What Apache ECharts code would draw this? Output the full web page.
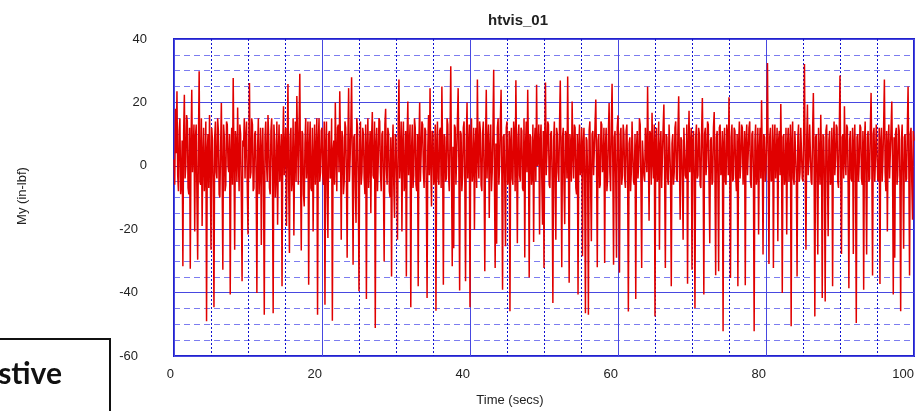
<!DOCTYPE html>
<html>
<head>
<meta charset="utf-8">
<script src="https://cdn.jsdelivr.net/npm/echarts@6/dist/echarts.min.js"></script>
<style>html,body{margin:0;padding:0;background:#fff}#c{width:916px;height:411px}</style>
</head>
<body>
<div id="c"></div>
<script>
const chartTitle = 'htvis_01';
const xAxisTitle = 'Time (secs)';
const yAxisTitle = 'My (in-lbf)';
const xTicks = [0, 20, 40, 60, 80, 100];
const yTicks = [-60, -40, -20, 0, 20, 40];
const startTime = 0;
const sampleStep = 0.1;
const boxText = 'stive';
const momentValues = [
 2,-6,18,4,23.5,-3,-8,11,15,-9,-5,8,-31.7,10,22.4,-4,0,16,14,-7,-9,12,-32.5,6,24,-2,5,13,-20.7,9,13,-10,-29.6,7,29.8,-5,-6,15,-19,3,12,-8,-3,14,-49,5,10,-7,16,1,
 -26.5,12,8,-7,-44.6,9,14,-2,-4,15,11,-9,-10,6,19.8,-3,-32.8,13,9,-8,-6,14,13,0,-2,10,-40.6,4,12,-6,27.7,3,-26.5,11,7,-5,18.4,2,-8,13,10,-10,-36.4,8,6,15,-4,9,14,-6,
 -21.7,7,26.1,-4,-2,15,13,-8,-7,10,11,-3,-40.1,6,15,-9,0,12,-25,5,12,-6,-47,9,14,1,-5,16,9,-7,-9,11,15,-2,-46.5,13,8,-10,-3,14,-18.6,4,13,-5,3,10,-38,7,18.8,-3,
 6,12,-19,5,25.8,-6,-27.5,9,12,-8,-4,15,-22,3,14,-5,22,8,-6,13,29,-2,-26.7,11,10,-9,-12.8,7,15,-4,2,14,-37.5,6,14,-7,-8,12,-20.7,2,13,-6,4,15,-47,8,15,-5,-2,11,
 12,-3,-6,14,-43.8,7,14,-8,-22.8,10,11,-4,-3,15,-48.9,5,8,-6,20,3,-8,12,13,-2,23.5,6,-23.3,11,9,-9,-5,14,12,-3,-29,8,24.5,-5,2,13,27.9,0,-31.2,9,10,-7,-18,15,12,-4,
 -39.6,8,14,-6,-2,12,10,-4,-9,13,-42,6,15,-7,3,11,-15,9,17,-3,-4,14,-51.2,7,12,-8,1,15,14,-2,-8,10,11,-5,-30.2,13,18,-1,-6,12,10,-8,-10,9,-34.9,4,13,-6,-16.5,10,
 8,-5,-23.3,12,27.2,-4,2,14,-20.7,7,14,-8,-5,11,-34.9,9,20.3,-3,6,13,-44.6,5,13,-7,-3,15,12,-6,-8,10,-38,8,20,-5,4,14,13,-2,-7,12,11,-9,-41.7,6,16,-3,24.5,1,-12.8,11,
 10,-6,-2,13,-45.7,7,14,-4,-6,11,12,-7,25,4,-37.5,10,9,-5,-4,15,13,-3,-8,9,31.4,-2,-31.7,6,-26,13,12,-6,3,14,24.5,-1,-39.3,11,10,-8,-3,12,14,-5,-36.4,8,20,-4,5,13,
 -44.6,9,15,-5,-1,12,-20.2,6,12,-7,27.2,3,-4,14,11,-6,-8,10,14,-2,-33.3,8,24,-4,6,13,-16.5,5,13,-8,-2,11,30.3,-3,-32.2,7,-24.6,12,15,-6,0,14,24,-2,-39.1,9,10,-5,-25.4,12,
 14,-6,-2,11,-45.9,8,12,-4,-6,14,10,-8,27,2,-24.4,9,13,-3,-5,12,11,-7,-8,15,-28.9,6,14,-2,24,5,-35.2,10,9,-6,-3,13,-24,7,12,-5,25.6,0,2,13,-21.7,8,13,-4,-18.6,11,
 -32.2,9,26.3,-3,4,14,13,-6,-7,10,11,-4,-43.3,8,14,-7,-23.3,12,10,-2,-5,13,26.9,3,-32,9,12,-6,-18.4,11,9,-4,28.2,2,-36.9,10,6,-5,20.3,4,-4,13,12,-7,-9,10,-40.6,6,13,-3,
 2,12,-28.5,7,12,-5,-46.5,9,8,-4,-47,11,14,-6,-23.8,10,11,-3,-3,13,20.9,1,-32,8,10,-7,-6,14,13,-2,1,12,-30.7,6,12,-8,-4,10,19.8,-2,-8,13,25.9,0,-31.2,9,11,-5,-29,12,
 15.9,-2,-33.7,10,12,-6,-3,13,10,-4,-7,11,13,-3,-46,7,9,-8,-2,14,14,-5,-6,10,-42,6,11,-4,1,15,13,-6,-32.2,8,8,-3,-5,12,12,-2,25,4,-17.3,11,10,-6,16.7,2,-4,13,
 -47.5,8,12,-5,-3,14,-26.5,6,11,-7,3,12,19.3,-2,-32.2,10,9,-4,-6,13,13,-3,-38,7,10,-6,-2,12,14,-4,-5,11,21.9,1,-17,9,8,-5,-23.3,12,12,-3,-4,13,-37.2,6,17.4,-2,6,12,
 -32.8,8,11,-5,-44.9,9,13,-4,-3,12,10,-6,-7,11,21.4,1,-40.6,10,12,-3,2,14,13,-5,-24.4,8,9,-6,-5,12,17,-2,-34.5,9,11,-4,-33.3,12,13,-3,0,11,-52.2,7,12,-5,-6,13,10,-3,
 21.6,-1,-35.4,9,13,-5,-4,12,11,-3,-8,10,-38,7,14,-4,1,13,12,-6,-6,11,-37.7,8,13,-3,4,12,14,-5,-7,10,11,-2,-52.2,8,13,-6,-2,12,-21.7,5,12,-4,20.7,2,-28,10,9,-5,
 -2,11,32.4,0,-31,9,12,-5,-4,13,-32.2,7,13,-4,3,12,-23.8,8,11,-3,19.5,2,-40.1,9,10,-6,-3,12,-21.7,6,12,-5,4,13,-50.6,8,14,-4,-6,11,11,-3,-34.9,9,13,-5,-2,12,12,-4,
 -5,12,32.1,-2,-26.5,8,19.3,-3,2,13,13,-5,-6,11,23,0,-47.5,9,10,-4,-28,12,12,-6,16.1,3,-41.7,10,9,-5,-42.8,11,13,-3,-22.2,8,11,-6,-4,12,-38,7,14,-3,2,13,12,-5,-7,10,
 28.5,-3,-27.8,9,10,-4,18.8,2,-3,13,12,-6,-38.6,8,11,-4,-5,12,-27.8,7,13,-3,-49.6,9,10,-5,1,13,12,-4,-6,11,-39.1,7,14,-3,-28,9,11,-5,-4,12,23,1,-34.6,10,12,-5,3,13,
 13,-4,-5,12,-37.3,8,12,-5,2,13,27.2,-2,-8,11,-20.7,7,13,-4,4,12,20.3,0,-40.6,9,-29,10,12,-6,-3,13,11,-5,-45.9,8,13,-3,-26.2,9,10,-5,-4,12,25,-1,-34.6,10,12,-5,-17,11,8
];

const seriesData = momentValues.map((v, i) => [+(startTime + i * sampleStep).toFixed(2), v]);

const FONT = '"Liberation Sans", Arial, sans-serif';
const chart = echarts.init(document.getElementById('c'), null, {renderer: 'canvas'});
chart.setOption({
  animation: false,
  backgroundColor: '#ffffff',
  title: {
    text: chartTitle, left: 513, top: 8, textAlign: 'center',
    textStyle: {fontFamily: FONT, fontSize: 15, fontWeight: 'bold', color: '#222'}
  },
  grid: {
    left: 174, right: 2, top: 39, bottom: 55, containLabel: false, outerBoundsMode: 'none',
    show: true, borderColor: '#2222cc', borderWidth: 2, backgroundColor: 'transparent'
  },
  xAxis: {
    type: 'value', min: xTicks[0], max: xTicks[xTicks.length - 1], interval: 20,
    axisLine: {show: false}, axisTick: {show: false},
    axisLabel: {margin: 12, align: 'right', fontFamily: FONT, fontSize: 13, color: '#222'},
    splitLine: {show: true, lineStyle: {color: '#4848e0', width: 1, type: 'solid'}},
    minorTick: {show: true, splitNumber: 4, length: 0},
    minorSplitLine: {show: true, lineStyle: {color: '#1010d0', width: 1, type: [2, 2]}}
  },
  yAxis: {
    type: 'value', min: yTicks[0], max: yTicks[yTicks.length - 1], interval: 20,
    axisLine: {show: false}, axisTick: {show: false},
    axisLabel: {
      margin: 27, fontFamily: FONT, fontSize: 13, color: '#222',
      formatter: v => v < 0 ? '{n|' + v + '}' : '{p|' + v + '}',
      rich: {
        n: {fontFamily: FONT, fontSize: 13, color: '#222', padding: [0, 9, 0, 0]},
        p: {fontFamily: FONT, fontSize: 13, color: '#222'}
      }
    },
    splitLine: {show: true, lineStyle: {color: '#4848e0', width: 1, type: 'solid'}},
    minorTick: {show: true, splitNumber: 4, length: 0},
    minorSplitLine: {show: true, lineStyle: {color: '#7c7cf0', width: 1, type: [6, 4]}}
  },
  graphic: [
    {type: 'text', x: 510, y: 400, style: {text: xAxisTitle, font: '13px ' + FONT, fill: '#222', align: 'center', verticalAlign: 'middle'}},
    {type: 'text', x: 22, y: 196, rotation: Math.PI / 2, style: {text: yAxisTitle, font: '13px ' + FONT, fill: '#222', align: 'center', verticalAlign: 'middle'}},
    {type: 'rect', shape: {x: -3, y: 339, width: 113, height: 80}, style: {fill: '#fff', stroke: '#111', lineWidth: 2}},
    {type: 'text', x: 62, y: 389, style: {text: boxText, font: 'bold 30px "Lato", "Open Sans", sans-serif', fill: '#111', align: 'right', verticalAlign: 'bottom'}}
  ],
  series: [{
    type: 'line', data: seriesData, showSymbol: false, symbol: 'none', sampling: null,
    lineStyle: {color: '#e00000', width: 1.5}, z: 5
  }]
});
</script>
</body>
</html>
